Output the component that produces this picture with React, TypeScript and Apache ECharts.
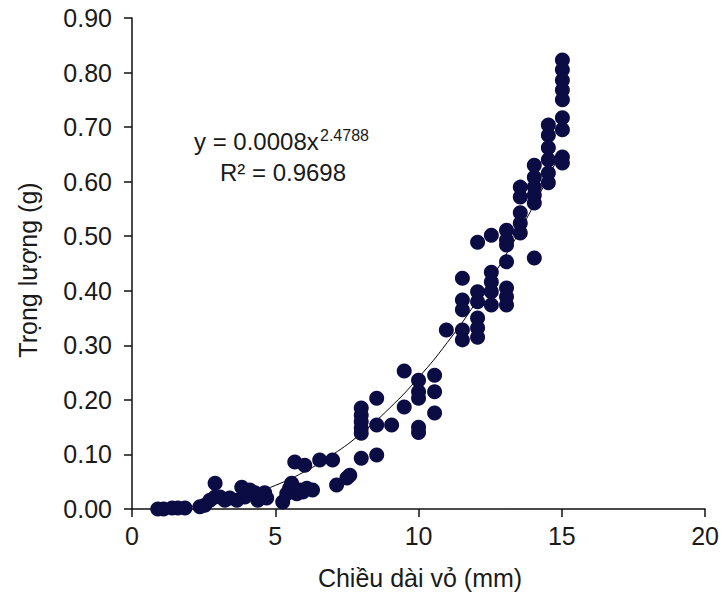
import React, { useEffect, useRef } from 'react';
import * as echarts from 'echarts';

// Shell length (mm) of each specimen
const lengthMm: number[] = [
  0.9, 1.1, 1.4, 1.6, 1.85,
  2.37, 2.54, 2.72, 2.9, 2.9, 3.07, 3.24, 3.41, 3.66, 3.83, 3.94, 4.11, 4.29, 4.39, 4.63, 4.7,
  5.26, 5.4, 5.5, 5.57, 5.75, 5.85, 5.96, 6.1, 6.3, 5.68, 6.03, 6.55, 7.0, 7.14, 7.5, 7.6,
  8.0, 8.0, 8.0, 8.0, 8.0, 8.0, 8.54, 8.54, 8.54, 9.06, 9.5, 9.5,
  10.0, 10.0, 10.0, 10.0, 10.0, 10.56, 10.56, 10.56,
  10.97, 11.53, 11.53, 11.53, 11.53, 11.53, 12.06, 12.06, 12.06, 12.06, 12.06, 12.06,
  12.54, 12.54, 12.54, 12.54, 12.54, 13.07, 13.07, 13.07, 13.07, 13.07, 13.07, 13.07,
  13.55, 13.55, 13.55, 13.55, 13.55, 14.04, 14.04, 14.04, 14.04, 14.04, 14.04,
  14.53, 14.53, 14.53, 14.53, 14.53, 14.53,
  15.02, 15.02, 15.02, 15.02, 15.02, 15.02, 15.02, 15.02, 15.02,
];

// Body weight (g) of each specimen
const weightG: number[] = [
  0.0, 0.0, 0.002, 0.002, 0.002,
  0.004, 0.007, 0.016, 0.022, 0.047, 0.022, 0.016, 0.02, 0.016, 0.04, 0.022, 0.035, 0.03, 0.016, 0.03, 0.02,
  0.013, 0.028, 0.038, 0.047, 0.028, 0.035, 0.031, 0.038, 0.035, 0.086, 0.08, 0.09, 0.09, 0.044, 0.057, 0.062,
  0.185, 0.172, 0.16, 0.148, 0.139, 0.093, 0.203, 0.154, 0.099, 0.154, 0.253, 0.187,
  0.236, 0.215, 0.203, 0.15, 0.14, 0.245, 0.215, 0.176,
  0.328, 0.423, 0.383, 0.365, 0.328, 0.31, 0.489, 0.398, 0.38, 0.35, 0.332, 0.315,
  0.502, 0.434, 0.416, 0.398, 0.374, 0.511, 0.493, 0.484, 0.453, 0.405, 0.389, 0.374,
  0.59, 0.572, 0.543, 0.524, 0.506, 0.63, 0.608, 0.59, 0.575, 0.561, 0.46,
  0.704, 0.685, 0.662, 0.64, 0.616, 0.598,
  0.823, 0.805, 0.786, 0.768, 0.75, 0.717, 0.695, 0.645, 0.634,
];

// Power trendline y = 0.0008x^2.4788, read at whole millimetres
const trendX: number[] = [0.8, 1, 2, 3, 4, 5, 6, 7, 8, 9, 10, 11, 12, 13, 14, 15];
const trendY: number[] = [0.0005, 0.0008, 0.0045, 0.0122, 0.0249, 0.0432, 0.0679, 0.0995, 0.1386, 0.1855, 0.2409, 0.305, 0.3786, 0.4616, 0.5548, 0.658];

const equationMain = 'y = 0.0008x';
const equationExp = '2.4788';
const rSquared = 'R² = 0.9698';
const xTitle = 'Chiều dài vỏ (mm)';
const yTitle = 'Trọng lượng (g)';

const FONT = '"Liberation Sans", Arial, sans-serif';
const TEXT = '#1a1a1a';

export default function App() {
  const ref = useRef<HTMLDivElement>(null);

  useEffect(() => {
    if (!ref.current) return;
    const chart = echarts.init(ref.current, undefined, { renderer: 'svg' });
    const points = lengthMm.map((x, i) => [x, weightG[i]]);
    const trend = trendX.map((x, i) => [x, trendY[i]]);

    chart.setOption({
      animation: false,
      backgroundColor: '#ffffff',
      grid: { left: 132, right: 16, top: 18, bottom: 85, containLabel: false },
      xAxis: {
        type: 'value',
        min: 0,
        max: 20,
        interval: 5,
        axisLine: { show: true, onZero: false, lineStyle: { color: '#111', width: 1.5 } },
        axisTick: { show: true, inside: false, length: 8, lineStyle: { color: '#111', width: 1.5 } },
        axisLabel: { margin: 14, fontSize: 25, fontFamily: FONT, color: TEXT },
        splitLine: { show: false },
      },
      yAxis: {
        type: 'value',
        min: 0,
        max: 0.9,
        interval: 0.1,
        axisLine: { show: true, lineStyle: { color: '#111', width: 1.5 } },
        axisTick: { show: true, inside: false, length: 8, lineStyle: { color: '#111', width: 1.5 } },
        axisLabel: {
          margin: 20,
          fontSize: 25,
          fontFamily: FONT,
          color: TEXT,
          formatter: (v: number) => v.toFixed(2),
        },
        splitLine: { show: false },
      },
      series: [
        {
          type: 'line',
          data: trend,
          smooth: true,
          symbol: 'none',
          lineStyle: { color: '#000', width: 1 },
          z: 1,
        },
        {
          type: 'scatter',
          data: points,
          symbol: 'circle',
          symbolSize: 15,
          itemStyle: { color: '#0c0c45', opacity: 1 },
          z: 2,
        },
      ],
      graphic: [
        {
          type: 'text',
          x: 28,
          y: 270,
          rotation: Math.PI / 2,
          style: {
            text: yTitle,
            fontSize: 25,
            fontFamily: FONT,
            fill: TEXT,
            align: 'center',
            verticalAlign: 'middle',
          },
        },
        {
          type: 'text',
          x: 420,
          y: 578,
          style: {
            text: xTitle,
            fontSize: 25,
            fontFamily: FONT,
            fill: TEXT,
            align: 'center',
            verticalAlign: 'middle',
          },
        },
        {
          type: 'text',
          x: 194,
          y: 141,
          style: {
            text: equationMain,
            fontSize: 24,
            fontFamily: FONT,
            fill: TEXT,
            align: 'left',
            verticalAlign: 'middle',
          },
        },
        {
          type: 'text',
          x: 320,
          y: 135,
          style: {
            text: equationExp,
            fontSize: 16,
            fontFamily: FONT,
            fill: TEXT,
            align: 'left',
            verticalAlign: 'middle',
          },
        },
        {
          type: 'text',
          x: 283,
          y: 172,
          style: {
            text: rSquared,
            fontSize: 24,
            fontFamily: FONT,
            fill: TEXT,
            align: 'center',
            verticalAlign: 'middle',
          },
        },
      ],
    });

    return () => chart.dispose();
  }, []);

  return (
    <div
      ref={ref}
      style={{ position: 'fixed', left: 0, top: 0, width: 722, height: 594, background: '#fff' }}
    />
  );
}
